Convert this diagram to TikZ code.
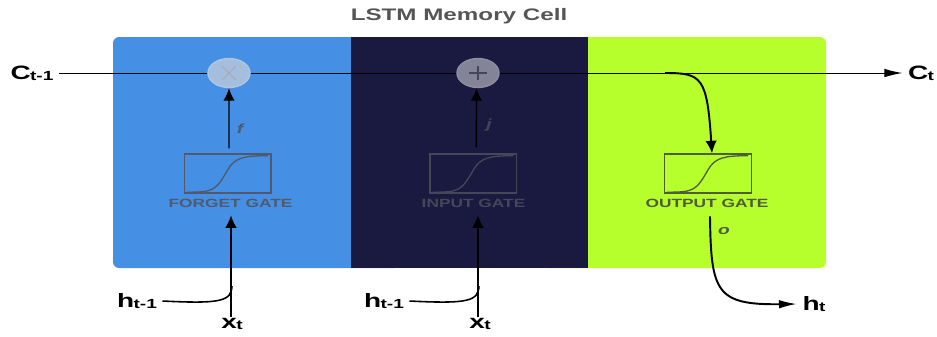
\documentclass[tikz,border=0pt]{standalone}
\usepackage{fontspec}
\setmainfont[FakeStretch=1.45]{Liberation Sans}
\usepackage{tikz}
\usetikzlibrary{arrows.meta,positioning,shapes.geometric}
\definecolor{forgetblue}{HTML}{4590E4}
\definecolor{inputnavy}{HTML}{1A1A40}
\definecolor{outputlime}{HTML}{B7FF2C}
\definecolor{titlegrey}{HTML}{555555}
\definecolor{forgetink}{HTML}{505A6C}
\definecolor{inputink}{HTML}{464658}
\definecolor{outputink}{HTML}{4F5C3C}
\newcommand{\sigcurve}[2]{\draw[#2, line width=0.75pt, shift={(#1.south west)}]
  (3,-1.5) .. controls (30,-1.5) and (32,-3) .. (44,-24) .. controls (51,-36) and (60,-38) .. (84,-38);}
\newcommand{\subt}[1]{{\fontsize{7.5}{8}\selectfont\raisebox{-0.2ex}{\kern-0.4pt #1}}}

\begin{document}
\begin{tikzpicture}[
  x=0.02cm, y=-0.02cm,
  gatebox/.style={draw, line width=0.8pt, minimum width=1.73cm, minimum height=0.78cm, inner sep=0pt},
  gatelabel/.style={font=\fontsize{6.8}{7}\selectfont\bfseries, inner sep=1pt},
  opcirc/.style={ellipse, draw, line width=0.8pt, minimum width=0.84cm, minimum height=0.58cm, inner sep=0pt},
  oplabel/.style={font=\fontsize{7.5}{8}\selectfont\bfseries\itshape, inner sep=0pt},
  signal/.style={font=\fontsize{11}{12}\selectfont\bfseries, inner sep=3pt},
  arrow/.style={-{Latex[length=2.5mm,width=2.3mm]}, line width=0.8pt},
  harrow/.style={-{Latex[length=3.6mm,width=1.7mm]}, line width=0.8pt},
  thinline/.style={line width=0.55pt}
]
  \useasboundingbox (0,0) rectangle (937,336);
  \node[font=\fontsize{9.5}{12}\selectfont\bfseries, text=titlegrey] (title) at (459,16) {LSTM Memory Cell};

  % panels
  \fill[forgetblue, rounded corners=3.5pt] (113,37) rectangle (400,268);
  \fill[outputlime, rounded corners=3.5pt] (540,37) rectangle (826,268);
  \fill[inputnavy] (351,37) rectangle (588,268);

  % gates
  \node[gatebox, draw=forgetink] (fgate) at (227.7,173.5) {};
  \node[gatebox, draw=inputink] (igate) at (473.4,173.5) {};
  \node[gatebox, draw=outputink] (ogate) at (708,173.5) {};
  \sigcurve{fgate}{forgetink}
  \sigcurve{igate}{inputink}
  \sigcurve{ogate}{outputink}
  \node[gatelabel, text=forgetink] (flabel) at (230.5,203) {FORGET GATE};
  \node[gatelabel, text=inputink] (ilabel) at (473.5,203) {INPUT GATE};
  \node[gatelabel, text=outputink] (olabel) at (707,203) {OUTPUT GATE};

  % operators
  \node[opcirc, fill={rgb,255:red,166;green,190;blue,221}, draw={rgb,255:red,176;green,198;blue,224}] (fcirc) at (229,73) {};
  \node[opcirc, fill={rgb,255:red,132;green,132;blue,152}, draw={rgb,255:red,142;green,142;blue,160}] (acirc) at (478,73) {};
  \draw[line width=0.6pt, forgetink!50!white]
    ([shift={(-7,-7)}]fcirc.center) -- ([shift={(7,7)}]fcirc.center)
    ([shift={(-7,7)}]fcirc.center) -- ([shift={(7,-7)}]fcirc.center);
  \draw[line width=0.8pt, inputink]
    ([xshift=-0.18cm]acirc.center) -- ([xshift=0.18cm]acirc.center)
    ([yshift=-0.14cm]acirc.center) -- ([yshift=0.14cm]acirc.center);

  % signals
  \node[signal] (cprev) at (32,73) {C\subt{t-1}};
  \node[signal] (cnext) at (921,73) {C\subt{t}};
  \node[signal] (hfprev) at (137,301) {h\subt{t-1}};
  \node[signal] (hiprev) at (384,301) {h\subt{t-1}};
  \node[signal] (hnext) at (814,304) {h\subt{t}};
  \node[signal] (xf) at (232,324) {x\subt{t}};
  \node[signal] (xi) at (480,324) {x\subt{t}};

  % cell state line
  \draw[thinline] (cprev) -- (fcirc);
  \draw[thinline] (fcirc) -- (acirc);
  \draw[harrow, thinline] (acirc) -- (cnext);

  % gate outputs
  \draw[arrow] ([xshift=0.026cm,yshift=0.1cm]fgate.north) -- (fcirc.south);
  \draw[arrow] ([xshift=0.06cm,yshift=0.12cm]igate.north) -- ([xshift=-0.03cm]acirc.south);
  \node[oplabel, text=forgetink] (flab) at (240,129) {f};
  \node[oplabel, text=inputink] (jlab) at (489,125) {j};
  \node[oplabel, text=outputink] (olab) at (724,231) {o};

  % inputs from below
  \coordinate (fjoin) at (232,286);
  \coordinate (ijoin) at (479,286);
  \coordinate (split) at (665,73);
  \draw[arrow] ([xshift=-0.02cm,yshift=-0.08cm]xf.north) -- ([xshift=-0.02cm,yshift=-0.12cm]xf.north |- flabel.south);
  \draw[arrow] ([xshift=-0.04cm,yshift=-0.08cm]xi.north) -- ([xshift=-0.04cm,yshift=-0.12cm]xi.north |- ilabel.south);
  \draw[line width=0.9pt] (hfprev.east) .. controls (222,304) and (231,301) .. (fjoin);
  \draw[line width=0.9pt] (hiprev.east) .. controls (469,304) and (478,301) .. (ijoin);

  % output gate
  \draw[arrow, line width=1.1pt] (split) .. controls (702,73) and (707,77) .. ([xshift=0.08cm]ogate.north);
  \draw[harrow, line width=1.1pt] ([xshift=0.06cm,yshift=-0.14cm]olabel.south) .. controls (711,292) and (716,305) .. (hnext.west);
\end{tikzpicture}
\end{document}
